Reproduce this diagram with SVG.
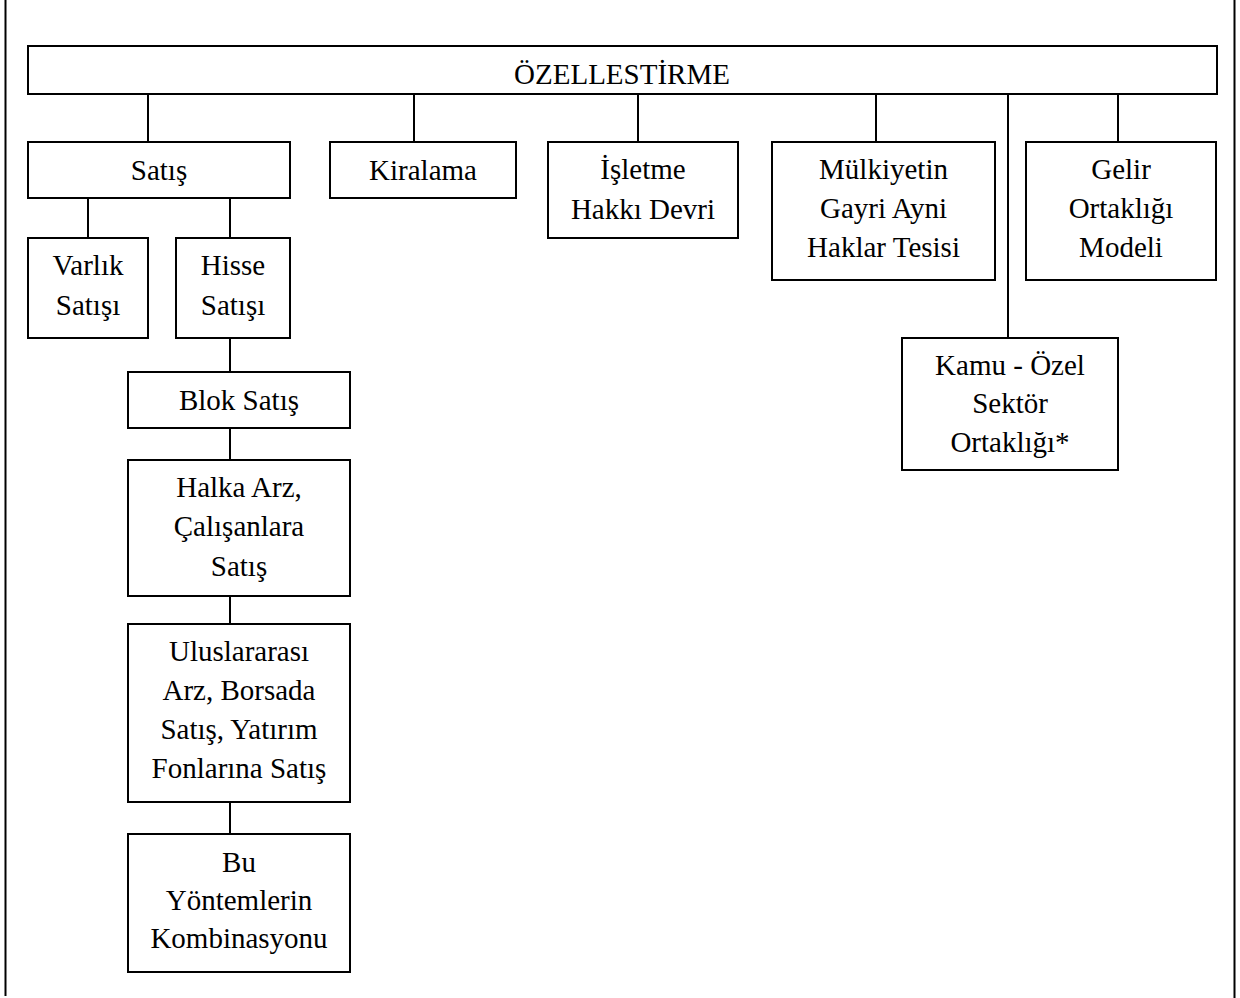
<svg xmlns="http://www.w3.org/2000/svg" width="1240" height="998" viewBox="0 0 1240 998">
<style>
.b{fill:#fff;stroke:#000;stroke-width:2}
.c line,.f{stroke:#000;stroke-width:2}
.t text{font-size:29px;fill:#000;text-anchor:middle}
</style>
<rect width="1240" height="998" fill="#fff"/>
<line class="f" x1="5.5" y1="0" x2="5.5" y2="996"/>
<line class="f" x1="1234.5" y1="0" x2="1234.5" y2="998"/>
<g class="c" id="connectors">
<line x1="148" y1="94" x2="148" y2="142"/>
<line x1="414" y1="94" x2="414" y2="142"/>
<line x1="638" y1="94" x2="638" y2="142"/>
<line x1="876" y1="94" x2="876" y2="142"/>
<line x1="1008" y1="94" x2="1008" y2="338"/>
<line x1="1118" y1="94" x2="1118" y2="142"/>
<line x1="88" y1="198" x2="88" y2="238"/>
<line x1="230" y1="198" x2="230" y2="238"/>
<line x1="230" y1="338" x2="230" y2="372"/>
<line x1="230" y1="428" x2="230" y2="460"/>
<line x1="230" y1="596" x2="230" y2="624"/>
<line x1="230" y1="802" x2="230" y2="834"/>
</g>
<g class="t" font-family="'Liberation Serif', 'DejaVu Serif', serif">
<g id="ozellestirme"><rect class="b" x="28" y="46" width="1189" height="48"/><text x="622" y="84">ÖZELLESTİRME</text></g>
<g id="satis"><rect class="b" x="28" y="142" width="262" height="56"/><text x="159" y="180">Satış</text></g>
<g id="kiralama"><rect class="b" x="330" y="142" width="186" height="56"/><text x="423" y="180">Kiralama</text></g>
<g id="isletme"><rect class="b" x="548" y="142" width="190" height="96"/><text x="643" y="179">İşletme</text><text x="643" y="219">Hakkı Devri</text></g>
<g id="mulkiyet"><rect class="b" x="772" y="142" width="223" height="138"/><text x="883.5" y="179">Mülkiyetin</text><text x="883.5" y="218">Gayri Ayni</text><text x="883.5" y="257">Haklar Tesisi</text></g>
<g id="gelir"><rect class="b" x="1026" y="142" width="190" height="138"/><text x="1121" y="179">Gelir</text><text x="1121" y="218">Ortaklığı</text><text x="1121" y="257">Modeli</text></g>
<g id="kamu"><rect class="b" x="902" y="338" width="216" height="132"/><text x="1010" y="375">Kamu - Özel</text><text x="1010" y="413">Sektör</text><text x="1010" y="452">Ortaklığı*</text></g>
<g id="varlik"><rect class="b" x="28" y="238" width="120" height="100"/><text x="88" y="275">Varlık</text><text x="88" y="315">Satışı</text></g>
<g id="hisse"><rect class="b" x="176" y="238" width="114" height="100"/><text x="233" y="275">Hisse</text><text x="233" y="315">Satışı</text></g>
<g id="blok"><rect class="b" x="128" y="372" width="222" height="56"/><text x="239" y="410">Blok Satış</text></g>
<g id="halka"><rect class="b" x="128" y="460" width="222" height="136"/><text x="239" y="497">Halka Arz,</text><text x="239" y="536">Çalışanlara</text><text x="239" y="576">Satış</text></g>
<g id="uluslararasi"><rect class="b" x="128" y="624" width="222" height="178"/><text x="239" y="661">Uluslararası</text><text x="239" y="700">Arz, Borsada</text><text x="239" y="739">Satış, Yatırım</text><text x="239" y="778">Fonlarına Satış</text></g>
<g id="kombinasyon"><rect class="b" x="128" y="834" width="222" height="138"/><text x="239" y="872">Bu</text><text x="239" y="910">Yöntemlerin</text><text x="239" y="948">Kombinasyonu</text></g>
</g>
</svg>
